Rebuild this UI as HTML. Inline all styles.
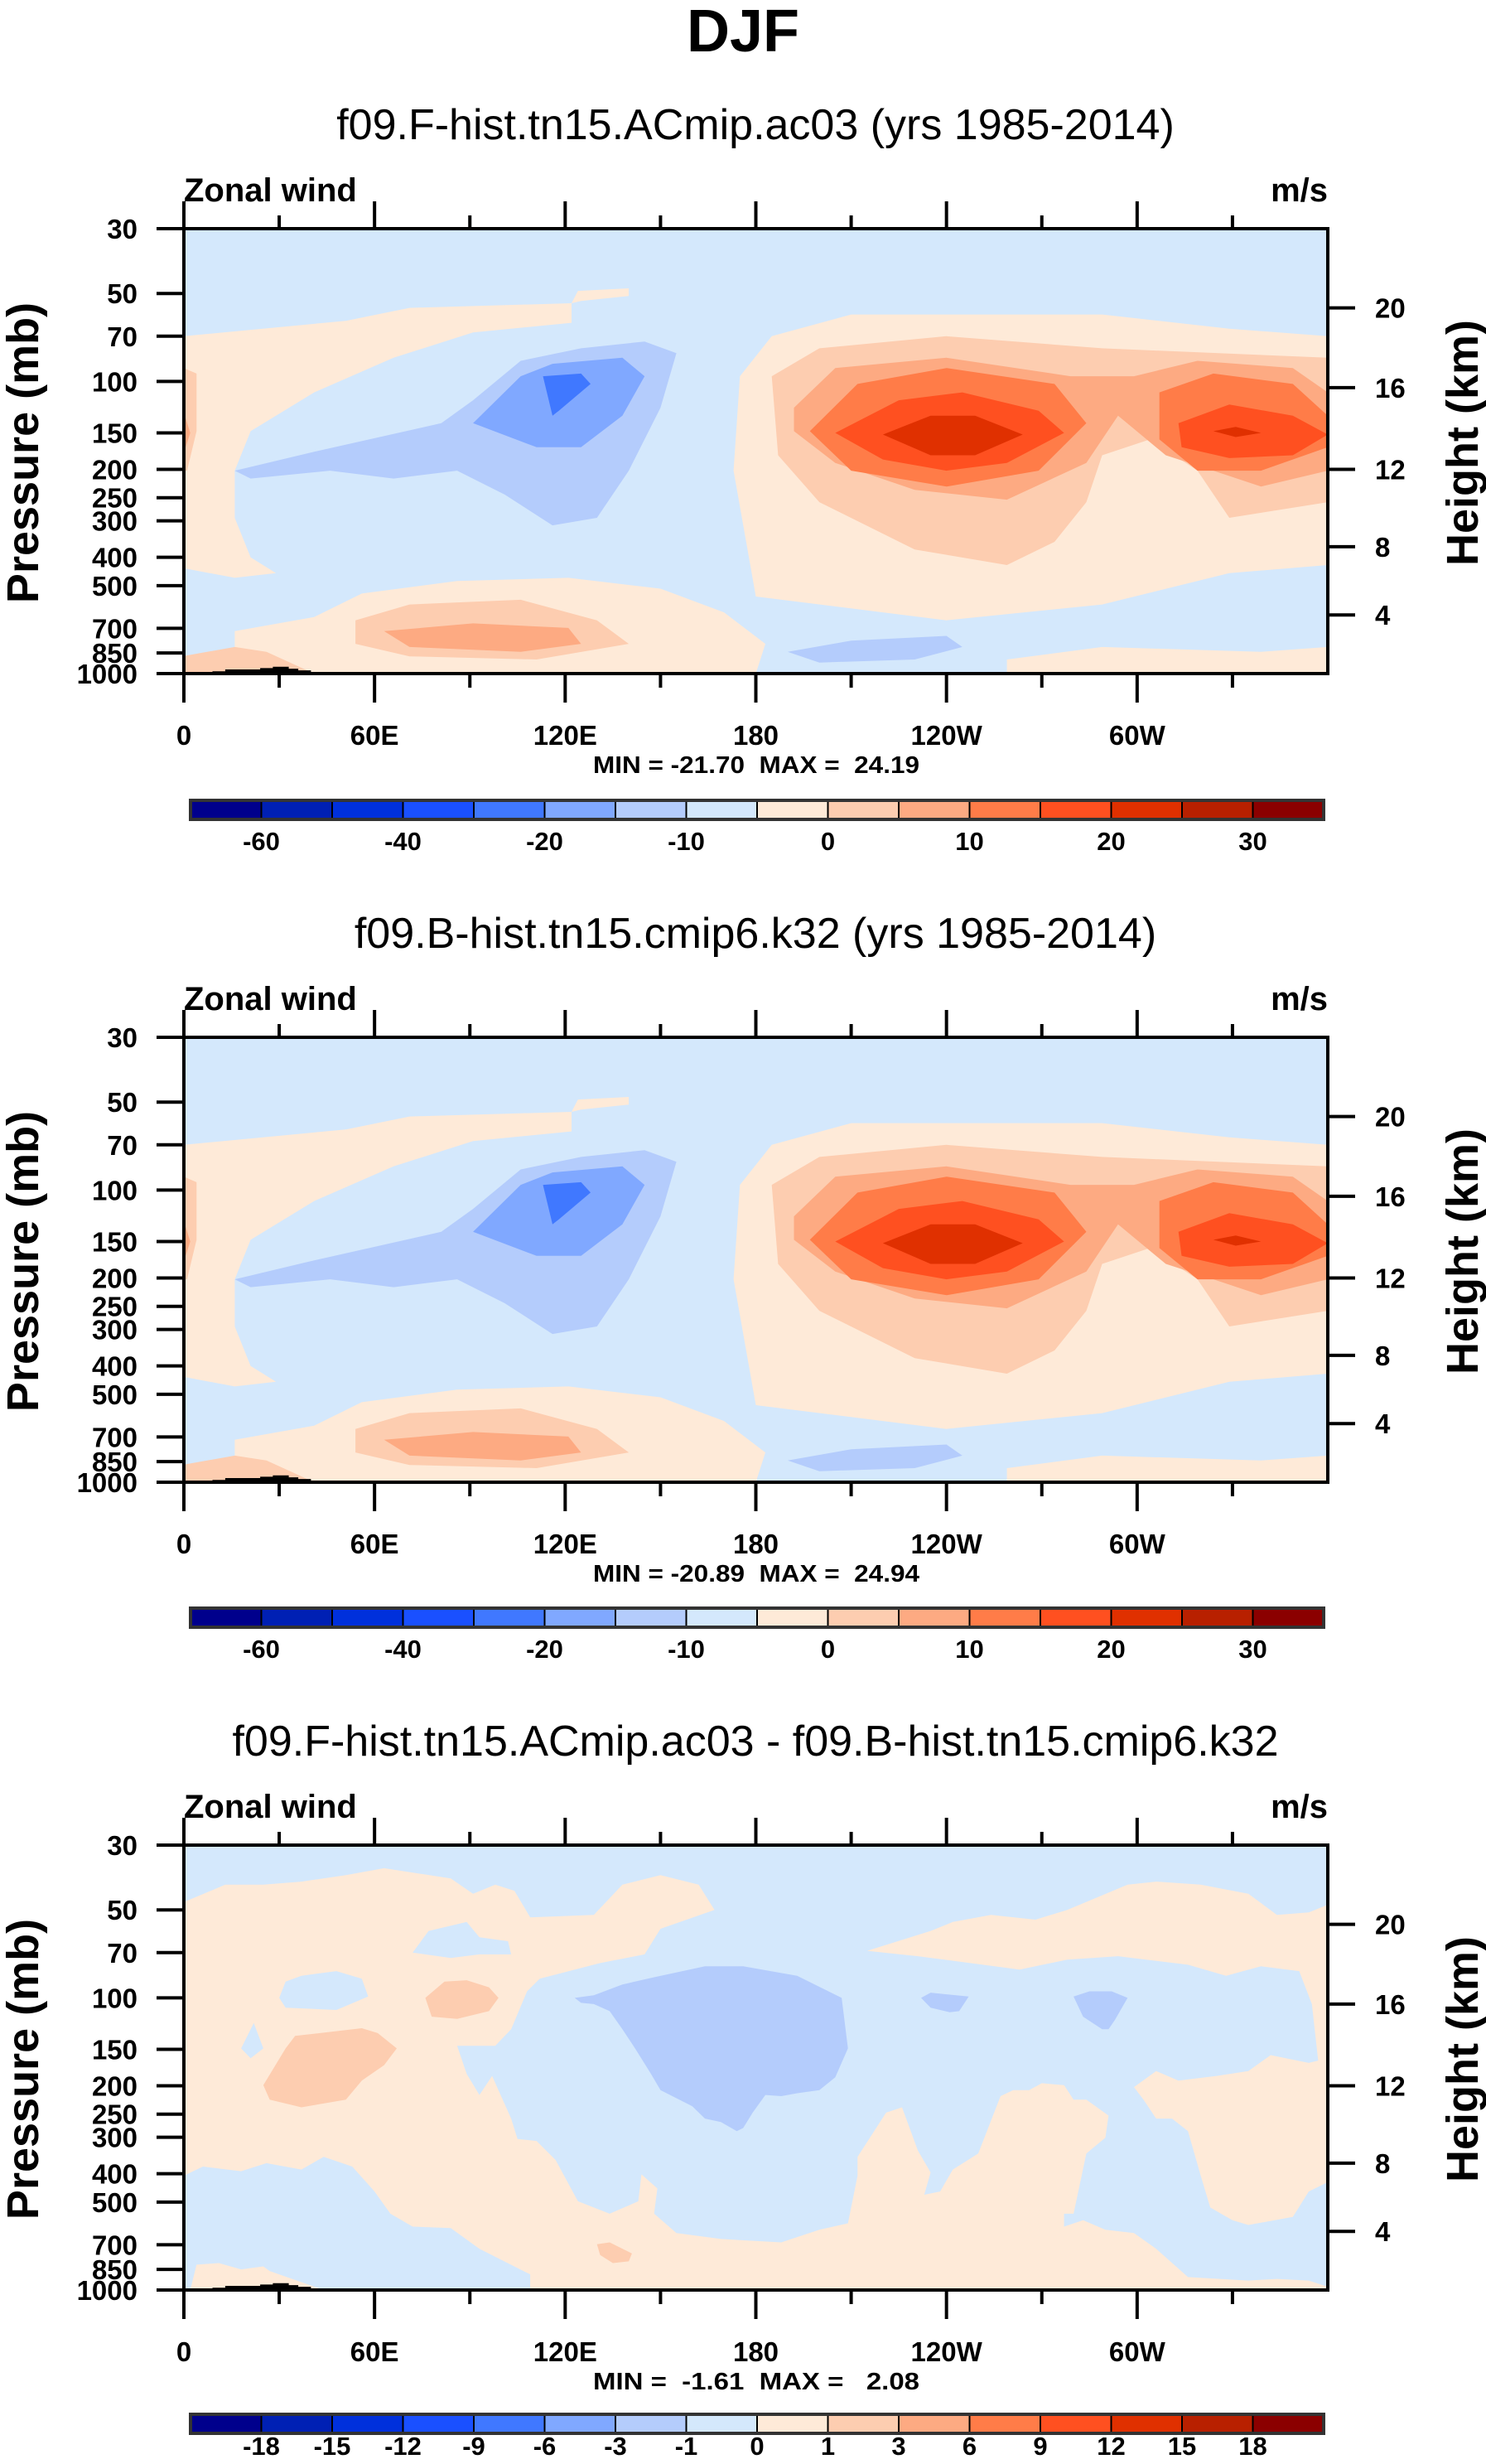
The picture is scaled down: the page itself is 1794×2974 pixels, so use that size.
<!DOCTYPE html>
<html><head><meta charset="utf-8"><title>DJF Zonal wind</title>
<style>
html,body{margin:0;padding:0;background:#fff;}
svg{display:block;font-family:"Liberation Sans",Arial,sans-serif;}
.pre{white-space:pre;}
</style></head>
<body>
<svg id="fig" xmlns="http://www.w3.org/2000/svg" width="1794" height="2974" viewBox="0 0 1794 2974">
<rect x="0" y="0" width="1794" height="2974" fill="#fff"/>
</svg>
<script>
// ---------- data ----------
const lonTicks = [0, 60, 120, 180, 240, 300];
const lonTickLabels = ['0', '60E', '120E', '180', '120W', '60W'];
const lonMinorTicks = [30, 90, 150, 210, 270, 330];
const pTicks = [30, 50, 70, 100, 150, 200, 250, 300, 400, 500, 700, 850, 1000];
const heightTickLabels = ['4', '8', '12', '16', '20'];
const heightTickPressures = [630, 368, 200, 105, 56];
const panelTitles = ['f09.F-hist.tn15.ACmip.ac03 (yrs 1985-2014)', 'f09.B-hist.tn15.cmip6.k32 (yrs 1985-2014)', 'f09.F-hist.tn15.ACmip.ac03 - f09.B-hist.tn15.cmip6.k32'];
const panelMinMax = ['MIN = -21.70  MAX =  24.19', 'MIN = -20.89  MAX =  24.94', 'MIN =  -1.61  MAX =   2.08'];
const levelColors = ['#00008c', '#0020b4', '#0030dc', '#1a50ff', '#4078ff', '#80a8ff', '#b4ccfc', '#d4e8fc', '#feead8', '#fdcdb0', '#fdaa82', '#ff7c48', '#ff5020', '#e03000', '#b82000', '#8b0000'];
const cbLabelsAbs = ['-60', '', '-40', '', '-20', '', '-10', '', '0', '', '10', '', '20', '', '30'];
const cbLabelsDiff = ['-18', '-15', '-12', '-9', '-6', '-3', '-1', '0', '1', '3', '6', '9', '12', '15', '18'];

// Full-field wind shapes [lon, pressure]
const windPeachUpper = [[0,70],[51,62],[71,56],[122,54],[122,63],[91,68],[66,83],[41,109],[21,148],[16,202],[16,293],[21,400],[29,453],[16,470],[0,436]];
const windPeachSmall = [[122,54],[124,49],[140,48],[140,51],[125,53]];
const windPeachLower = [[16,716],[41,640],[56,532],[86,482],[121,470],[150,512],[170,617],[183,791],[180,1000],[0,1000],[0,895],[16,811]];
const windPeachRight = [[175,96],[185,70],[210,59],[289,59],[329,66],[360,70],[360,425],[329,453],[289,580],[240,657],[180,545],[173,202]];
const windPeachBotRight = [[259,895],[289,811],[339,842],[360,811],[360,1000],[259,1000]];
const windSalmonRight = [[185,96],[200,77],[240,70],[289,77],[360,83],[360,259],[329,293],[319,202],[304,158],[289,179],[284,259],[274,354],[259,425],[230,376],[200,259],[187,179]];
const windSalmonEdge = [[0,90],[4,94],[4,148],[1,202],[0,202]];
const windSalmonLower = [[54,657],[71,580],[106,559],[130,657],[140,791],[111,895],[71,873],[54,791]];
const windSalmonBotLeft = [[0,870],[16,811],[26,842],[41,1000],[0,1000]];
const windOrangeRight = [[192,123],[205,90],[240,83],[279,96],[299,96],[319,85],[349,90],[360,109],[360,202],[339,229],[324,202],[309,179],[294,131],[284,190],[259,254],[230,235],[205,190],[192,148]];
const windOrangeEdge = [[0,128],[2,150],[0,175]];
const windOrangeLower = [[63,716],[91,673],[121,698],[125,791],[106,842],[71,811]];
const windJet1West = [[197,148],[212,102],[240,90],[274,102],[284,139],[269,202],[240,229],[210,202]];
const windJet1East = [[307,109],[324,94],[349,102],[360,131],[360,168],[339,202],[319,202],[307,158]];
const windJet2West = [[205,150],[225,116],[245,109],[269,126],[277,150],[259,190],[240,202],[220,185]];
const windJet2East = [[313,139],[329,120],[349,131],[360,152],[349,179],[329,183],[314,168]];
const windJet3West = [[220,152],[235,131],[249,131],[264,152],[249,179],[235,179]];
const windJet3East = [[324,148],[331,143],[339,150],[331,155]];
const windBlue1 = [[16,202],[41,174],[81,139],[91,116],[106,85],[125,77],[145,73],[155,80],[150,123],[140,202],[130,293],[116,311],[101,244],[86,202],[66,215],[46,202],[21,215]];
const windBlue1Low = [[190,842],[210,771],[240,743],[245,811],[230,895],[200,917]];
const windBlue2 = [[91,139],[106,96],[116,87],[138,83],[145,96],[138,131],[125,168],[111,168]];
const windBlue3 = [[113,96],[125,94],[128,102],[118,126],[116,131]];

// Difference shapes [lon, pressure]
const diffPeachA = [[0,47],[13,41],[25,41],[37,40],[51,38],[63,36],[84,39],[91,44],[98,41],[104,43],[109,53],[129,52],[138,41],[150,38],[162,41],[167,50],[150,58],[145,71],[131,76],[112,86],[108,95],[103,128],[98,146],[86,146],[89,182],[93,215],[97,185],[103,259],[105,304],[111,309],[117,359],[124,497],[134,548],[143,497],[144,402],[149,449],[148,548],[155,638],[169,669],[188,687],[200,622],[209,591],[212,406],[212,350],[221,247],[226,237],[231,333],[235,396],[233,472],[238,460],[242,387],[250,341],[257,217],[261,207],[266,207],[270,196],[277,199],[280,223],[284,223],[291,253],[290,301],[284,341],[280,548],[277,548],[277,607],[283,577],[290,622],[299,638],[306,723],[316,903],[335,928],[344,916],[354,928],[360,975],[360,1000],[0,1000]];
const diffPeachB = [[215,69],[235,59],[242,55],[254,52],[268,54],[278,50],[297,41],[306,40],[320,41],[335,44],[344,52],[354,51],[360,48],[360,167],[357,165],[355,105],[351,81],[339,78],[328,84],[316,77],[294,72],[278,74],[263,80],[231,72]];
const diffPeachC = [[299,202],[306,178],[313,192],[325,185],[335,178],[342,157],[354,167],[360,161],[360,427],[354,460],[349,562],[335,599],[330,577],[323,522],[320,406],[316,286],[311,259],[306,259],[302,223]];
const diffBlueD = [[72,70],[77,59],[89,55],[93,62],[102,64],[103,71],[93,71],[84,73]];
const diffBlueE = [[30,100],[32,88],[37,84],[48,81],[56,86],[58,99],[48,110],[32,108]];
const diffBlueF = [[18,149],[22,122],[25,149],[21,161]];
const diffBlueG = [[0,406],[6,378],[18,392],[26,368],[37,387],[44,350],[53,378],[60,460],[65,548],[72,607],[84,614],[93,723],[105,841],[109,884],[109,1000],[44,1000],[27,861],[25,830],[18,850],[11,809],[4,819],[2,1000],[0,1000]];
const diffSalmonH = [[76,100],[82,88],[89,87],[96,92],[99,100],[96,111],[86,118],[78,116]];
const diffSalmonI = [[25,199],[32,149],[35,135],[56,127],[61,132],[67,149],[63,170],[56,192],[51,223],[37,237],[27,223]];
const diffSalmonJ = [[130,697],[134,687],[141,750],[140,798],[135,809],[131,759]];
const diffBlueK = [[123,100],[129,98],[138,90],[148,85],[164,78],[176,78],[193,84],[207,100],[208,122],[209,149],[205,187],[200,207],[193,212],[188,217],[183,215],[179,247],[176,279],[174,286],[169,266],[164,259],[160,235],[150,207],[147,182],[142,149],[138,128],[134,111],[129,105],[125,104]];
const diffBlueL = [[232,100],[235,96],[247,99],[244,111],[241,112],[235,108]];
const diffBlueM = [[280,99],[285,95],[292,95],[297,100],[293,119],[291,128],[289,128],[283,116]];

// Topography (surface pressure by longitude)
const topoMain = [[9,1000],[9,982],[13,982],[13,968],[24,968],[24,958],[28,958],[28,948],[33,948],[33,962],[36,962],[36,975],[40,975],[40,990],[42,990],[42,1000]];
const topoMid = [[112,1000],[112,990],[114,990],[114,995],[165,995],[165,1000]];
const topoEast = [[283,1000],[283,988],[286,988],[286,994],[310,994],[310,1000]];

const windLayers = [
 [8, windPeachUpper],[8, windPeachSmall],[8, windPeachLower],[8, windPeachRight],[8, windPeachBotRight],
 [9, windSalmonRight],[9, windSalmonEdge],[9, windSalmonLower],[9, windSalmonBotLeft],
 [10, windOrangeRight],[10, windOrangeEdge],[10, windOrangeLower],
 [11, windJet1West],[11, windJet1East],[12, windJet2West],[12, windJet2East],[13, windJet3West],[13, windJet3East],
 [6, windBlue1],[6, windBlue1Low],[5, windBlue2],[4, windBlue3]
];
const diffLayers = [
 [8, diffPeachA],[8, diffPeachB],[8, diffPeachC],
 [7, diffBlueD],[7, diffBlueE],[7, diffBlueF],[7, diffBlueG],
 [9, diffSalmonH],[9, diffSalmonI],[9, diffSalmonJ],
 [6, diffBlueK],[6, diffBlueL],[6, diffBlueM]
];

// ---------- layout ----------
const NS = 'http://www.w3.org/2000/svg';
const svg = document.getElementById('fig');
const PL = 222, PR = 1603, PH = 537;
const panelTops = [276, 1252, 2227];
const cbTops = [966, 1941, 2914];
const cbLabelOffsets = [60, 60, 49];
function xOf(lon){ return PL + lon / 360 * (PR - PL); }
function yOf(top, p){ return top + Math.log10(p / 30) / Math.log10(1000 / 30) * PH; }
function mk(tag, attrs, parent){
  const el = document.createElementNS(NS, tag);
  for (const k in attrs) el.setAttribute(k, attrs[k]);
  (parent || svg).appendChild(el);
  return el;
}
function txt(str, attrs, parent){ const t = mk('text', attrs, parent); t.textContent = str; return t; }
function polyPts(top, pts){ return pts.map(q => xOf(q[0]).toFixed(1) + ',' + yOf(top, q[1]).toFixed(1)).join(' '); }

const title = txt('DJF', {x: 897, y: 62, 'text-anchor': 'middle', 'font-size': 72, 'font-weight': 'bold'});



for (let i = 0; i < 3; i++) {
  const top = panelTops[i];
  const bot = top + PH;
  const off = top - 276;
  const g = mk('g', {});
  
  

  const st = txt(panelTitles[i], {x: 912, y: 168 + off, 'text-anchor': 'middle', 'font-size': 52}, g);
  
  
  const zl = txt('Zonal wind', {x: 222, y: 243 + off, 'font-size': 40, 'font-weight': 'bold'}, g);
  
  
  const ul = txt('m/s', {x: 1603, y: 243 + off, 'text-anchor': 'end', 'font-size': 40, 'font-weight': 'bold'}, g);
  
  

  const cid = 'clip' + i;
  const cp = mk('clipPath', {id: cid}, g);
  mk('rect', {x: PL, y: top, width: PR - PL, height: PH}, cp);
  const plot = mk('g', {'clip-path': 'url(#' + cid + ')'}, g);
  
  
  const bg = mk('rect', {x: PL, y: top, width: PR - PL, height: PH, fill: levelColors[7]}, plot);
  
  
  const layers = i < 2 ? windLayers : diffLayers;
  layers.forEach(function(L){
    const poly = mk('polygon', {points: polyPts(top, L[1]), fill: levelColors[L[0]], 'stroke-linejoin': 'round'}, plot);
    
    
  });
  [topoMain, topoMid, topoEast].forEach(function(T){
    const tp = mk('polygon', {points: polyPts(top, T), fill: '#000'}, plot);
    
    
  });

  const frame = mk('rect', {x: PL, y: top, width: PR - PL, height: PH, fill: 'none', stroke: '#000', 'stroke-width': 4}, g);
  
  

  lonTicks.forEach(function(lon, k){
    const x = xOf(lon);
    mk('line', {x1: x, y1: top, x2: x, y2: top - 33, stroke: '#000', 'stroke-width': 4}, g);
    mk('line', {x1: x, y1: bot, x2: x, y2: bot + 35, stroke: '#000', 'stroke-width': 4}, g);
    const lb = txt(lonTickLabels[k], {x: x, y: bot + 86, 'text-anchor': 'middle', 'font-size': 33, 'font-weight': 'bold'}, g);
    
    
  });
  lonMinorTicks.forEach(function(lon){
    const x = xOf(lon);
    mk('line', {x1: x, y1: top, x2: x, y2: top - 16, stroke: '#000', 'stroke-width': 4}, g);
    mk('line', {x1: x, y1: bot, x2: x, y2: bot + 17, stroke: '#000', 'stroke-width': 4}, g);
  });
  pTicks.forEach(function(p){
    const y = yOf(top, p);
    mk('line', {x1: PL - 33, y1: y, x2: PL, y2: y, stroke: '#000', 'stroke-width': 4}, g);
    const lb = txt(String(p), {x: 166, y: y + 12, 'text-anchor': 'end', 'font-size': 33, 'font-weight': 'bold'}, g);
    
    
  });
  heightTickPressures.forEach(function(p, k){
    const y = yOf(top, p);
    mk('line', {x1: PR, y1: y, x2: PR + 33, y2: y, stroke: '#000', 'stroke-width': 4}, g);
    const lb = txt(heightTickLabels[k], {x: 1660, y: y + 12, 'font-size': 33, 'font-weight': 'bold'}, g);
    
    
  });
  const yt = txt('Pressure (mb)', {x: 0, y: 0, 'text-anchor': 'middle', 'font-size': 54, 'font-weight': 'bold', transform: 'translate(46,' + (top + PH / 2 + 2) + ') rotate(-90)'}, g);
  
  
  const rt = txt('Height (km)', {x: 0, y: 0, 'text-anchor': 'middle', 'font-size': 54, 'font-weight': 'bold', transform: 'translate(1784,' + (top + PH / 2 - 10) + ') rotate(-90)'}, g);
  
  
  const mm = txt(panelMinMax[i], {x: 716, y: 933 + off, 'font-size': 29, 'font-weight': 'bold', 'class': 'pre', textLength: 394, lengthAdjust: 'spacingAndGlyphs'}, g);
  
  

  // colorbar
  const cb = mk('g', {}, g);
  
  
  const cbx = 230, cbw = 1368, cby = cbTops[i], cbh = 23, bw = cbw / 16;
  const labs = i < 2 ? cbLabelsAbs : cbLabelsDiff;
  levelColors.forEach(function(c, k){
    const r = mk('rect', {x: cbx + k * bw, y: cby, width: bw, height: cbh, fill: c, stroke: '#000', 'stroke-width': 2}, cb);
    
    
  });
  mk('rect', {x: cbx, y: cby, width: cbw, height: cbh, fill: 'none', stroke: '#333', 'stroke-width': 4}, cb);
  labs.forEach(function(s, k){
    if (!s) return;
    const lb = txt(s, {x: cbx + (k + 1) * bw, y: cby + cbLabelOffsets[i], 'text-anchor': 'middle', 'font-size': 31, 'font-weight': 'bold'}, cb);
    
    
  });
}
</script>
</body></html>
